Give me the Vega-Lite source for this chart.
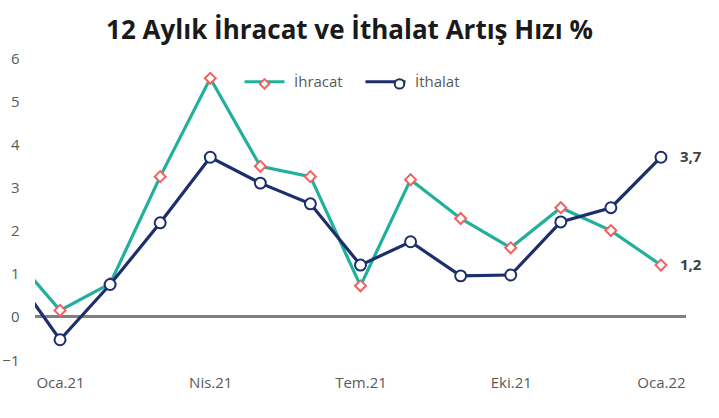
{
  "$schema": "https://vega.github.io/schema/vega-lite/v6.json",
  "autosize": "none",
  "width": 651,
  "height": 302,
  "padding": {"left": 35, "top": 58, "right": 33, "bottom": 58},
  "background": "white",
  "title": {
    "text": "12 Aylık İhracat ve İthalat Artış Hızı %",
    "font": "Open Sans",
    "fontSize": 26,
    "fontWeight": "bold",
    "color": "#1a1a1a",
    "anchor": "middle",
    "dx": -11,
    "offset": 7
  },
  "config": {
    "view": {"stroke": null},
    "axis": {"grid": false, "domain": false, "ticks": false, "labelFont": "Open Sans", "labelFontSize": 15, "labelColor": "#595959", "title": null},
    "legend": {"labelFont": "Open Sans", "labelFontSize": 15, "labelColor": "#595959"}
  },
  "data": {
    "values": [
      {"i": -1, "ay": "Ara.20", "seri": "İhracat", "v": 1.5},
      {"i": 0, "ay": "Oca.21", "seri": "İhracat", "v": 0.15},
      {"i": 1, "ay": "Şub.21", "seri": "İhracat", "v": 0.77},
      {"i": 2, "ay": "Mar.21", "seri": "İhracat", "v": 3.25},
      {"i": 3, "ay": "Nis.21", "seri": "İhracat", "v": 5.53},
      {"i": 4, "ay": "May.21", "seri": "İhracat", "v": 3.49},
      {"i": 5, "ay": "Haz.21", "seri": "İhracat", "v": 3.25},
      {"i": 6, "ay": "Tem.21", "seri": "İhracat", "v": 0.72},
      {"i": 7, "ay": "Ağu.21", "seri": "İhracat", "v": 3.18},
      {"i": 8, "ay": "Eyl.21", "seri": "İhracat", "v": 2.28},
      {"i": 9, "ay": "Eki.21", "seri": "İhracat", "v": 1.6},
      {"i": 10, "ay": "Kas.21", "seri": "İhracat", "v": 2.53},
      {"i": 11, "ay": "Ara.21", "seri": "İhracat", "v": 2.0},
      {"i": 12, "ay": "Oca.22", "seri": "İhracat", "v": 1.2},
      {"i": -1, "ay": "Ara.20", "seri": "İthalat", "v": 1.1},
      {"i": 0, "ay": "Oca.21", "seri": "İthalat", "v": -0.53},
      {"i": 1, "ay": "Şub.21", "seri": "İthalat", "v": 0.75},
      {"i": 2, "ay": "Mar.21", "seri": "İthalat", "v": 2.18},
      {"i": 3, "ay": "Nis.21", "seri": "İthalat", "v": 3.7},
      {"i": 4, "ay": "May.21", "seri": "İthalat", "v": 3.1},
      {"i": 5, "ay": "Haz.21", "seri": "İthalat", "v": 2.62},
      {"i": 6, "ay": "Tem.21", "seri": "İthalat", "v": 1.2},
      {"i": 7, "ay": "Ağu.21", "seri": "İthalat", "v": 1.74},
      {"i": 8, "ay": "Eyl.21", "seri": "İthalat", "v": 0.95},
      {"i": 9, "ay": "Eki.21", "seri": "İthalat", "v": 0.97},
      {"i": 10, "ay": "Kas.21", "seri": "İthalat", "v": 2.2},
      {"i": 11, "ay": "Ara.21", "seri": "İthalat", "v": 2.53},
      {"i": 12, "ay": "Oca.22", "seri": "İthalat", "v": 3.7}
    ]
  },
  "encoding": {
    "x": {
      "field": "i",
      "type": "quantitative",
      "scale": {"domain": [-0.5, 12.5], "nice": false, "zero": false},
      "axis": {"values": [0, 3, 6, 9, 12], "labelExpr": "['Oca.21','Nis.21','Tem.21','Eki.21','Oca.22'][datum.value/3]", "labelPadding": 15, "labelFlush": false}
    },
    "y": {
      "field": "v",
      "type": "quantitative",
      "scale": {"domain": [-1, 6], "nice": false, "zero": false},
      "axis": {"values": [-1, 0, 1, 2, 3, 4, 5, 6], "labelPadding": 16}
    }
  },
  "layer": [
    {
      "mark": {"type": "rule", "color": "#7f7f7f", "strokeWidth": 2.5},
      "encoding": {"x": null, "y": {"datum": 0}}
    },
    {
      "mark": {"type": "line", "strokeWidth": 3.2, "clip": true},
      "encoding": {
        "color": {
          "field": "seri",
          "type": "nominal",
          "scale": {"domain": ["İhracat", "İthalat"], "range": ["#21B09B", "#1C2F6B"]},
          "legend": {"title": null, "orient": "none", "legendX": 208, "legendY": 2, "direction": "horizontal", "symbolType": "stroke", "symbolSize": 1600, "symbolStrokeWidth": 3, "labelOffset": 8, "columnPadding": 16, "zindex": 1}
        }
      }
    },
    {
      "mark": {"type": "point", "filled": false, "fill": "white", "fillOpacity": 1, "strokeWidth": 2, "size": 120, "opacity": 1, "clip": true},
      "encoding": {
        "shape": {
          "field": "seri",
          "type": "nominal",
          "scale": {"range": ["diamond", "circle"]},
          "legend": {"title": null, "orient": "none", "legendX": 208, "legendY": 18, "direction": "horizontal", "symbolSize": 90, "symbolFillColor": "white", "symbolStrokeWidth": 2, "symbolOffset": 14, "labelOffset": 0, "labelExpr": "''", "columnPadding": 104, "zindex": 2}
        },
        "stroke": {
          "field": "seri",
          "type": "nominal",
          "scale": {"range": ["#F2615F", "#1C2F6B"]},
          "legend": {"title": null, "orient": "none", "legendX": 208, "legendY": 18, "direction": "horizontal", "symbolSize": 90, "symbolFillColor": "white", "symbolStrokeWidth": 2, "symbolOffset": 14, "labelOffset": 0, "labelExpr": "''", "columnPadding": 104, "zindex": 2}
        }
      }
    },
    {
      "transform": [
        {"filter": "datum.i == 12"},
        {"calculate": "replace(format(datum.v, '.1f'), '.', ',')", "as": "etiket"}
      ],
      "mark": {"type": "text", "align": "left", "baseline": "middle", "dx": 19, "font": "Open Sans", "fontSize": 15, "fontWeight": "bold", "color": "#404040"},
      "encoding": {"text": {"field": "etiket"}}
    }
  ]
}
